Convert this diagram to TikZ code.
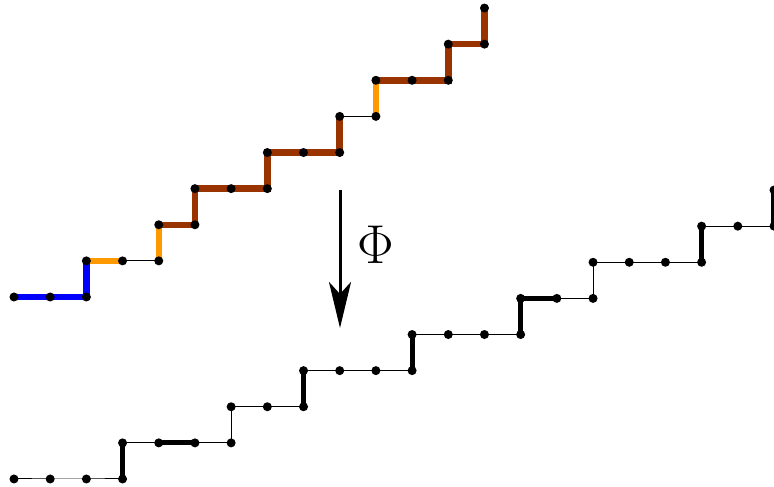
\documentclass[tikz,border=0pt]{standalone}
\usetikzlibrary{arrows.meta}
\definecolor{pathblue}{RGB}{0,0,255}
\definecolor{pathorange}{RGB}{255,153,0}
\definecolor{pathbrown}{RGB}{153,51,0}
\tikzset{
  dot/.style={circle,fill=black,inner sep=0pt,minimum size=9pt},
  thinedge/.style={line width=1pt,black},
  boldedge/.style={line width=5pt,black},
  coloredge/.style={line width=6.5pt},
}
\begin{document}
\begin{tikzpicture}[x=36.19pt,y=36.12pt]
\useasboundingbox (0pt,0pt) rectangle (774pt,487pt);
% top path vertices
\begin{scope}[shift={(14pt,190pt)}]
\foreach \i/\a/\b in {0/0/0,1/1/0,2/2/0,3/2/1,4/3/1,5/4/1,6/4/2,7/5/2,8/5/3,9/6/3,10/7/3,11/7/4,12/8/4,13/9/4,14/9/5,15/10/5,16/10/6,17/11/6,18/12/6,19/12/7,20/13/7,21/13/8}
  \coordinate (t\i) at (\a,\b);
\end{scope}
% bottom path vertices
\begin{scope}[shift={(14pt,8pt)}]
\foreach \i/\a/\b in {0/0/0,1/1/0,2/2/0,3/3/0,4/3/1,5/4/1,6/5/1,7/6/1,8/6/2,9/7/2,10/8/2,11/8/3,12/9/3,13/10/3,14/11/3,15/11/4,16/12/4,17/13/4,18/14/4,19/14/5,20/15/5,21/16/5,22/16/6,23/17/6,24/18/6,25/19/6,26/19/7,27/20/7,28/21/7,29/21/8}
  \coordinate (b\i) at (\a,\b);
\end{scope}
% top path edges
\draw[coloredge,pathblue] (t0) -- (t1) -- (t2) -- (t3);
\draw[coloredge,pathorange] (t3) -- (t4);
\draw[thinedge] (t4) -- (t5);
\draw[coloredge,pathorange] (t5) -- (t6);
\draw[coloredge,pathbrown] (t6) -- (t7) -- (t8) -- (t9) -- (t10) -- (t11) -- (t12) -- (t13) -- (t14);
\draw[thinedge] (t14) -- (t15);
\draw[coloredge,pathorange] (t15) -- (t16);
\draw[coloredge,pathbrown] (t16) -- (t17) -- (t18) -- (t19) -- (t20) -- (t21);
% bottom path edges
\draw[thinedge] (b0) \foreach \i in {1,...,29} { -- (b\i) };
\draw[boldedge] (b3) -- (b4);
\draw[boldedge] (b5) -- (b6);
\draw[boldedge] (b10) -- (b11);
\draw[boldedge] (b14) -- (b15);
\draw[boldedge] (b18) -- (b19) -- (b20);
\draw[boldedge] (b25) -- (b26);
\draw[boldedge] (b28) -- (b29);
% dots
\foreach \i in {0,...,21} \node[dot] (dt\i) at (t\i) {};
\foreach \i in {0,...,29} \node[dot] (db\i) at (b\i) {};
% map arrow
\coordinate (arrtop) at (340pt,297pt);
\coordinate (arrbot) at (340pt,159pt);
\draw[line width=3pt,-{Stealth[length=46pt,width=22pt,inset=12pt]}] (arrtop) -- (arrbot);
\node[font=\Huge,scale=2.2] (phi) at (376pt,242pt) {$\Phi$};
\end{tikzpicture}
\end{document}
